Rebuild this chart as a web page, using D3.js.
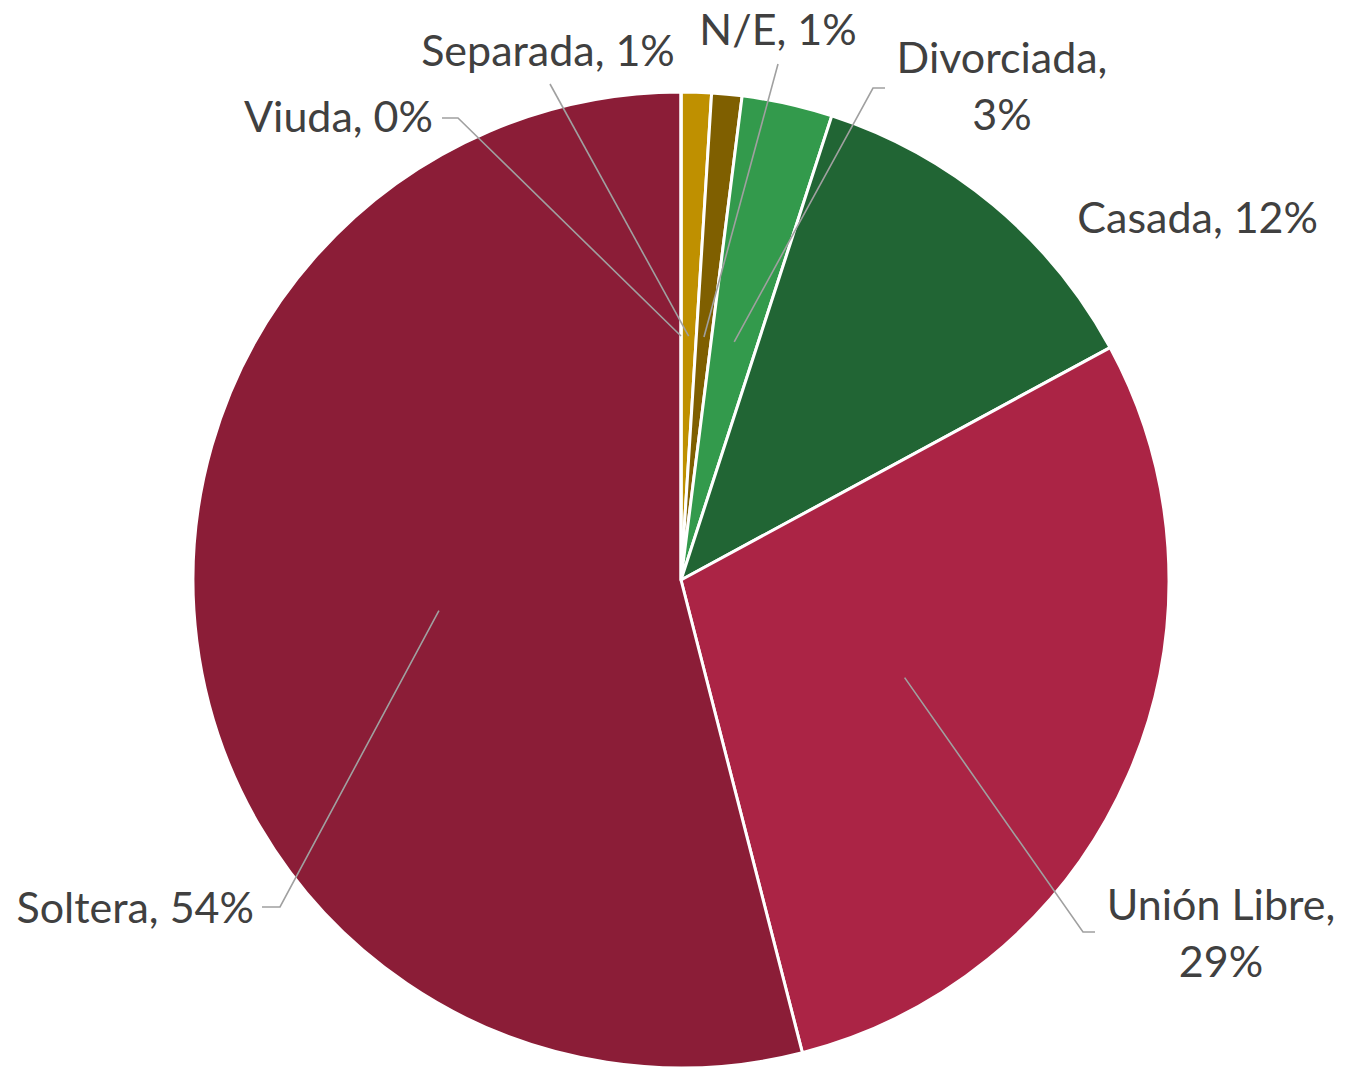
<!DOCTYPE html>
<html>
<head>
<meta charset="utf-8">
<script src="https://cdn.jsdelivr.net/npm/d3@7"></script>
<style>
  html, body { margin: 0; padding: 0; background: #fff; }
  text { font-family: Lato, "Open Sans", sans-serif; }
</style>
</head>
<body>
<div id="pie-container"></div>
<script>
// estado civil, en porcentaje (orden de las rebanadas, desde arriba y en sentido horario)
const categories = ["Separada", "N/E", "Divorciada", "Casada", "Unión Libre", "Soltera", "Viuda"];
const values = [1.0, 1.0, 3.0, 12.1, 28.9, 54.0, 0.0];
const labels = ["1%", "1%", "3%", "12%", "29%", "54%", "0%"];
const colors = ["#BF9000", "#7F5F00", "#339A4C", "#216534", "#AB2445", "#8B1D37", "#C9A227"];

// dónde va cada etiqueta: x, línea base, alineación, si se parte en dos líneas, y el codo de la línea guía
const labelLayout = [
  { x: 548, y: 66, anchor: "middle", wrap: false, elbow: [550, 84], end: null },
  { x: 778, y: 45, anchor: "middle", wrap: false, elbow: [778, 64], end: null },
  { x: 1002, y: 73, anchor: "middle", wrap: true, elbow: [873, 88], end: [885, 88] },
  { x: 1318, y: 233, anchor: "end", wrap: false, elbow: null, end: null },
  { x: 1221, y: 920, anchor: "middle", wrap: true, elbow: [1083, 932], end: [1095, 932] },
  { x: 254, y: 923, anchor: "end", wrap: false, elbow: [280, 907], end: [262, 907] },
  { x: 433, y: 132, anchor: "end", wrap: false, elbow: [458, 118], end: [442, 118] }
];

const width = 1346;
const height = 1069;
const cx = 681, cy = 580;
const radius = 488;

const data = categories.map((c, i) => ({ category: c, value: values[i], label: labels[i], color: colors[i], layout: labelLayout[i] }));

const svg = d3.select("#pie-container").append("svg")
  .attr("width", width)
  .attr("height", height);

const g = svg.append("g")
  .attr("transform", `translate(${cx},${cy})`);

const pie = d3.pie()
  .sort(null)
  .value(d => d.value);

const arc = d3.arc()
  .innerRadius(0)
  .outerRadius(radius);

const arcs = pie(data);

g.selectAll("path.slice")
  .data(arcs)
  .enter().append("path")
  .attr("class", "slice")
  .attr("d", arc)
  .attr("fill", d => d.data.color)
  .attr("stroke", "#fff")
  .attr("stroke-width", 3)
  .attr("stroke-linejoin", "round");

// líneas guía
const leader = d => {
  const a = (d.startAngle + d.endAngle) / 2;
  const p0 = [cx + Math.sin(a) * radius / 2, cy - Math.cos(a) * radius / 2];
  const pts = [p0, d.data.layout.elbow];
  if (d.data.layout.end) pts.push(d.data.layout.end);
  return d3.line()(pts);
};

svg.append("g")
  .selectAll("path")
  .data(arcs.filter(d => d.data.layout.elbow))
  .enter().append("path")
  .attr("d", leader)
  .attr("fill", "none")
  .attr("stroke", "#A0A0A0")
  .attr("stroke-width", 1.6);

// etiquetas
const lbl = svg.append("g")
  .selectAll("text")
  .data(arcs)
  .enter().append("text")
  .attr("x", d => d.data.layout.x)
  .attr("y", d => d.data.layout.y)
  .attr("text-anchor", d => d.data.layout.anchor)
  .attr("fill", "#404040")
  .attr("font-size", 43);

lbl.each(function(d) {
  const t = d3.select(this);
  if (d.data.layout.wrap) {
    t.append("tspan").attr("x", d.data.layout.x).text(d.data.category + ",");
    t.append("tspan").attr("x", d.data.layout.x).attr("dy", 57).text(d.data.label);
  } else {
    t.text(`${d.data.category}, ${d.data.label}`);
  }
});
</script>
</body>
</html>
